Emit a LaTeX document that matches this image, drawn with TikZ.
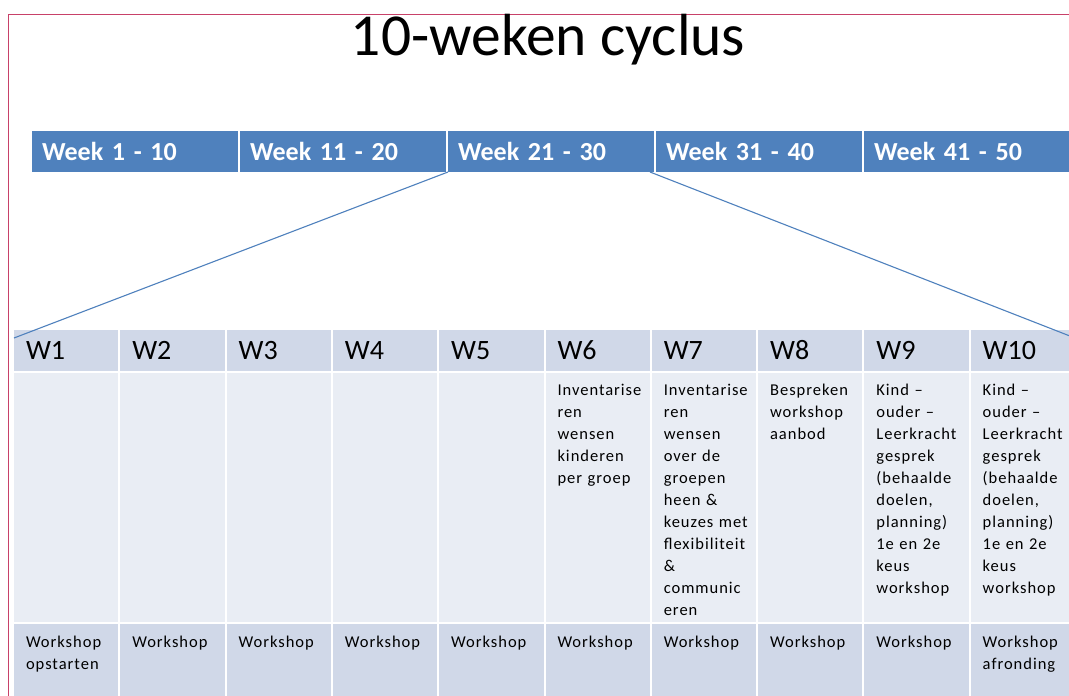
\documentclass[tikz,border=0pt]{standalone}
\usepackage{fontspec}
\setmainfont{Carlito}
\newfontfamily\cellfont[LetterSpace=6]{Carlito}
\usetikzlibrary{positioning,calc}
\definecolor{barblue}{HTML}{4F81BD}
\definecolor{headgray}{HTML}{D0D8E8}
\definecolor{bodygray}{HTML}{E9EDF4}
\definecolor{framered}{RGB}{200,65,105}
\tikzset{
  basic/.style = {rectangle, outer sep=0pt, inner ysep=0pt, align=left},
  week/.style  = {basic, fill=barblue, text=white, text width=186pt,
                  inner xsep=10pt, minimum height=41pt,
                  font=\bfseries\fontsize{26}{28}\selectfont},
  head/.style  = {basic, fill=headgray, text width=80.3pt, inner xsep=12pt,
                  minimum height=41pt, font=\fontsize{28}{30}\selectfont},
  body/.style  = {basic, fill=bodygray, text width=80.3pt, inner xsep=12pt,
                  inner ysep=10pt, text height=12pt, text depth=217pt,
                  font=\cellfont\fontsize{16.5}{22}\selectfont},
  foot/.style  = {basic, fill=headgray, text width=80.3pt, inner xsep=12pt,
                  inner ysep=11pt, text height=12pt, text depth=46pt,
                  font=\cellfont\fontsize{16.5}{22}\selectfont},
  link/.style  = {draw=barblue, line width=1.1pt}
}

\begin{document}
\begin{tikzpicture}[x=1pt, y=-1pt]
\clip (0,0) rectangle (1069,696);
\fill[white] (0,0) rectangle (1069,696);

% kader en titel
\draw[framered, line width=1.5pt] (8.5,700) |- (1075,14.3);
\node[anchor=base, font=\fontsize{59.5}{62}\selectfont] (title) at (548,55) {10-weken cyclus};

% balk met de weken van het jaar
\node[week, anchor=north west] (w1) at (32,131) {Week 1 - 10};
\foreach \i/\lbl [evaluate=\i as \p using int(\i-1)] in
  {2/{Week 11 - 20}, 3/{Week 21 - 30}, 4/{Week 31 - 40}, 5/{Week 41 - 50}}
  \node[week, right=2pt of w\p] (w\i) {\lbl};

% de tien weken, kopregel
\node[head, anchor=north west] (h1) at (14,330) {W1};
\foreach \i [evaluate=\i as \p using int(\i-1)] in {2,...,10}
  \node[head, right=2pt of h\p] (h\i) {W\i};

% middelste rij
\foreach \i/\txt in {1/{}, 2/{}, 3/{}, 4/{}, 5/{},
  6/{Inventarise\\ren\\wensen\\kinderen\\per~groep},
  7/{Inventarise\\ren\\wensen\\over~de\\groepen\\heen~\&\\keuzes~met\\flexibiliteit\\\&\\communic\\eren},
  8/{Bespreken\\workshop\\aanbod},
  9/{Kind~–\\ouder~–\\Leerkracht\\gesprek\\(behaalde\\doelen,\\planning)\\1e~en~2e\\keus\\workshop},
  10/{Kind~–\\ouder~–\\Leerkracht\\gesprek\\(behaalde\\doelen,\\planning)\\1e~en~2e\\keus\\workshop}}
  \node[body, below=2pt of h\i] (b\i) {\txt};

% onderste rij
\foreach \i/\txt in {1/{Workshop\\opstarten}, 2/Workshop, 3/Workshop, 4/Workshop,
  5/Workshop, 6/Workshop, 7/Workshop, 8/Workshop, 9/Workshop,
  10/{Workshop\\afronding}}
  \node[foot, below=2pt of b\i] (f\i) {\txt};

% uitvergroting van week 21 - 30
\draw[link] (w3.south west) -- ($(h1.north west)+(0,8)$);
\draw[link] ($(w3.south east)+(-4,0)$) -- ($(h10.north east)+(0,8)$);
\end{tikzpicture}
\end{document}
